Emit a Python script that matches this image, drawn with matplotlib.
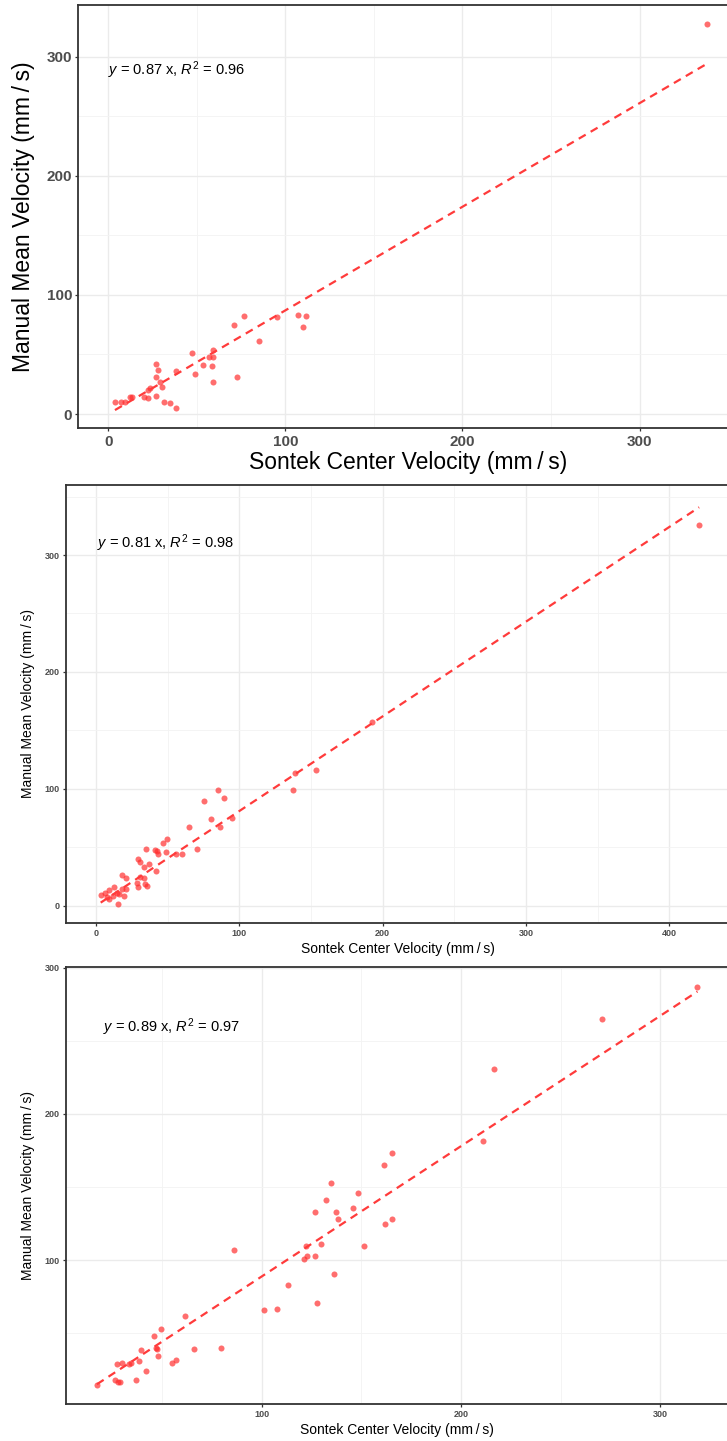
import numpy as np
import matplotlib
matplotlib.use('Agg')
import matplotlib.pyplot as plt
from matplotlib.ticker import MultipleLocator

plt.rcParams['font.family'] = ['Liberation Sans', 'DejaVu Sans']
plt.rcParams['mathtext.fontset'] = 'custom'
plt.rcParams['mathtext.rm'] = 'Liberation Sans'
plt.rcParams['mathtext.it'] = 'Liberation Sans:italic'

# ── Data ──
p1_x = [3.8, 7.1, 9.4, 12.2, 13.2, 20.1, 22.7, 27.1, 22.4, 23.5, 26.7, 27.1, 28.2, 29.1,
        30.1, 31.6, 35.0, 38.3, 38.3, 47.4, 48.9, 53.6, 56.8, 59.0, 59.4, 58.5, 59.0, 70.9,
        72.9, 76.9, 85.2, 95.5, 107.0, 111.5, 109.8, 338.0]
p1_y = [9.8, 9.8, 9.8, 14.0, 14.0, 14.0, 13.2, 15.1, 20.2, 21.6, 31.1, 42.0, 37.0, 27.2,
        23.0, 10.1, 9.0, 5.0, 36.1, 51.3, 33.9, 41.2, 47.6, 54.1, 47.9, 40.1, 27.2, 75.1,
        31.1, 82.4, 61.1, 81.2, 83.2, 82.4, 73.1, 327.7]

p2_x = [3.3, 6.5, 7.4, 9.1, 9.3, 12.6, 12.1, 14.9, 15.3, 16.3, 18.1, 19.3, 21.2, 17.9,
        20.7, 28.6, 29.3, 30.7, 33.5, 34.4, 35.8, 29.5, 30.5, 33.5, 37.2, 42.1, 34.9, 41.2,
        42.6, 43.0, 48.6, 47.0, 49.8, 56.0, 60.2, 70.5, 64.9, 75.1, 80.5, 85.3, 89.3, 86.5,
        95.1, 137.4, 138.6, 153.3, 192.8, 420.8]
p2_y = [9.5, 10.6, 7.2, 13.5, 5.7, 15.8, 8.6, 10.6, 1.4, 10.1, 14.1, 8.0, 14.7, 25.9,
        24.1, 19.8, 15.8, 24.4, 23.9, 18.7, 16.7, 39.9, 37.6, 32.8, 35.9, 29.6, 48.9, 47.4,
        46.8, 44.5, 46.3, 54.0, 56.9, 44.0, 44.5, 48.9, 67.0, 89.4, 74.1, 99.4, 92.2, 67.0,
        74.7, 99.4, 113.5, 116.1, 157.5, 325.6]

p3_x = [17.2, 26.2, 27.8, 28.8, 27.2, 30.0, 33.5, 34.2, 36.7, 38.2, 41.8, 39.3, 45.8, 46.8,
        47.2, 47.8, 49.5, 54.8, 56.8, 61.5, 65.8, 79.5, 86.2, 101.0, 107.7, 113.3, 121.3,
        122.5, 122.3, 126.5, 126.5, 127.5, 129.8, 132.2, 134.8, 136.0, 137.3, 138.0, 146.0,
        148.2, 151.2, 161.4, 161.7, 165.3, 165.2, 211.2, 216.5, 270.7, 318.7]
p3_y = [14.9, 18.1, 17.0, 17.0, 29.0, 30.1, 29.0, 29.5, 18.1, 31.1, 24.2, 39.0, 48.1, 39.9,
        39.2, 34.9, 53.1, 30.1, 32.2, 62.0, 39.2, 40.2, 107.1, 65.9, 67.0, 82.9, 100.9,
        103.0, 109.8, 103.0, 132.8, 71.1, 110.9, 141.0, 153.0, 90.9, 132.8, 128.0, 136.0,
        146.0, 110.0, 164.8, 125.0, 173.0, 128.0, 181.7, 230.8, 264.7, 286.8]

slopes = [0.87, 0.81, 0.89]
r2 = [0.96, 0.98, 0.97]
xlabel = 'Sontek Center Velocity (mm\u2009/\u2009s)'
ylabel = 'Manual Mean Velocity (mm\u2009/\u2009s)'

W, H = 727, 1441
fig = plt.figure(figsize=(W / 100, H / 100), dpi=100)


def box(left, right, top, bottom):
    return [left / W, 1 - bottom / H, (right - left) / W, (bottom - top) / H]


panels = [
    dict(x=p1_x, y=p1_y, rect=box(78.3, 737, 5, 428.3), xlim=(-16.9, 355), ylim=(-12.0, 343.4),
         tick_fs=11, lab_fs=16.5, note=(0.0, 289), xlab_pad=2),
    dict(x=p2_x, y=p2_y, rect=box(66, 729.5, 485, 922.7), xlim=(-20.9, 442), ylim=(-14.5, 359.9),
         tick_fs=6.5, lab_fs=10, note=(0.5, 310), xlab_pad=3),
    dict(x=p3_x, y=p3_y, rect=box(66, 727.5, 966.7, 1404), xlim=(1.66, 333.8), ylim=(1.8, 300.6),
         tick_fs=6.5, lab_fs=10, note=(20.0, 259), xlab_pad=3),
]

for i, p in enumerate(panels):
    ax = fig.add_axes(p['rect'])
    x = np.array(p['x'])
    y = np.array(p['y'])

    ax.scatter(x, y, s=19, color='#FF2A2A', alpha=0.68, linewidths=0, zorder=3)

    # fitted line through origin
    xs = np.array([x.min(), x.max()])
    ax.plot(xs, slopes[i] * xs, color='#FF3B3B', lw=1.6, ls=(0, (3.6, 2.6)), zorder=4)

    ax.text(p['note'][0], p['note'][1], rf'$y$ = {slopes[i]:.2f} x, $R^2$ = {r2[i]:.2f}',
            fontsize=10.5, ha='left', va='center', color='black', zorder=5)

    ax.set_xlim(*p['xlim'])
    ax.set_ylim(*p['ylim'])
    ax.xaxis.set_major_locator(MultipleLocator(100))
    ax.yaxis.set_major_locator(MultipleLocator(100))
    ax.xaxis.set_minor_locator(MultipleLocator(50))
    ax.yaxis.set_minor_locator(MultipleLocator(50))
    ax.grid(which='major', color='#EBEBEB', lw=1.0, zorder=0)
    ax.grid(which='minor', color='#F3F3F3', lw=0.6, zorder=0)
    ax.set_axisbelow(True)

    ax.tick_params(which='major', length=2.5, width=0.9, color='#333333', pad=2,
                   labelsize=p['tick_fs'], labelcolor='#4D4D4D')
    ax.tick_params(which='minor', length=0)
    for lbl in ax.get_xticklabels() + ax.get_yticklabels():
        lbl.set_fontweight('bold')

    for s in ax.spines.values():
        s.set_color('#333333')
        s.set_linewidth(1.3)

    ax.set_xlabel(xlabel, fontsize=p['lab_fs'], labelpad=p['xlab_pad'])
    ax.set_ylabel(ylabel, fontsize=p['lab_fs'])
    # y title: right edge at ~35 px from the left of the image
    ax.yaxis.set_label_coords(35 / W, p['rect'][1] + p['rect'][3] / 2,
                              transform=fig.transFigure)

fig.savefig('out.png', dpi=100, facecolor='white')
